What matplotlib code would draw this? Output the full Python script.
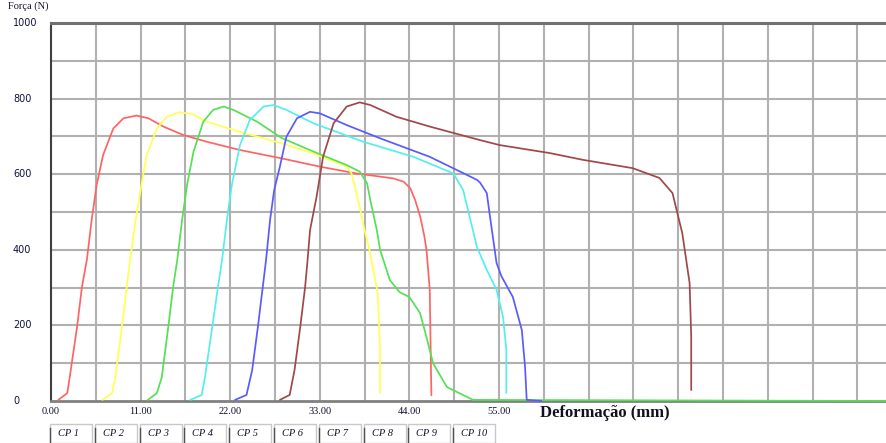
import matplotlib
matplotlib.use("Agg")
import matplotlib.pyplot as plt
from matplotlib.patches import Rectangle
from matplotlib.lines import Line2D
import matplotlib.transforms as mtransforms
import numpy as np

# ---------------- data ----------------
cp1_x = [0.9, 2.0, 2.3, 3.2, 3.8, 4.4, 5.0, 5.6, 6.4, 7.65, 8.9, 10.5, 11.95, 13.8, 16.2, 19.1, 23.2, 28.5, 33.0, 37.5, 42.0, 43.3, 44.1, 44.7, 45.3, 45.8, 46.1, 46.5, 46.6, 46.7]
cp1_y = [3, 21, 63, 196, 302, 373, 480, 571, 651, 721, 748, 755, 748, 726, 704, 686, 664, 641, 620, 602, 589, 580, 563, 532, 490, 440, 400, 294, 150, 15]

cp2_x = [6.3, 7.5, 7.9, 8.7, 9.3, 9.7, 10.4, 11.1, 11.75, 13.0, 14.2, 15.8, 17.5, 19.1, 23.2, 28.3, 32.2, 36.3, 36.9, 37.7, 38.5, 39.1, 40.1, 40.4, 40.4]
cp2_y = [3, 21, 63, 196, 302, 373, 480, 571, 651, 721, 752, 764, 758, 739, 712, 682, 655, 620, 602, 532, 452, 400, 286, 135, 21]

cp3_x = [11.9, 13.0, 13.6, 14.4, 15.0, 15.5, 16.1, 16.7, 17.5, 18.7, 19.9, 21.2, 22.4, 25.3, 28.3, 32.2, 36.3, 37.9, 38.8, 39.2, 40.0, 40.4, 41.6, 42.8, 44.0, 45.3, 46.1, 46.9, 48.6, 51.8, 103.0]
cp3_y = [3, 21, 63, 196, 302, 373, 480, 571, 660, 739, 770, 779, 770, 739, 696, 660, 624, 607, 576, 532, 452, 400, 320, 288, 275, 233, 169, 100, 37, 3, 0]

cp4_x = [17.1, 18.5, 18.9, 19.8, 20.5, 21.0, 21.6, 22.2, 23.2, 24.4, 26.1, 27.3, 28.9, 32.2, 38.3, 44.5, 49.4, 50.6, 51.4, 52.3, 53.5, 54.7, 55.5, 55.9, 55.9]
cp4_y = [3, 16, 63, 196, 302, 373, 480, 571, 677, 743, 779, 783, 770, 735, 686, 646, 602, 558, 487, 407, 347, 294, 222, 135, 21]

cp5_x = [22.6, 24.0, 24.7, 25.4, 26.0, 26.4, 26.9, 27.4, 28.1, 28.9, 30.2, 31.8, 33.0, 36.3, 40.4, 46.5, 52.3, 52.7, 53.5, 53.9, 54.7, 55.3, 56.7, 57.8, 58.2, 58.4, 60.2]
cp5_y = [3, 16, 82, 196, 302, 373, 480, 558, 620, 699, 748, 765, 761, 730, 695, 646, 585, 577, 550, 487, 365, 330, 275, 188, 90, 3, 0]

cp6_x = [28.1, 29.3, 29.9, 30.6, 31.2, 31.5, 31.8, 32.6, 33.4, 34.7, 36.3, 37.9, 39.2, 42.4, 46.5, 52.7, 55.1, 61.2, 65.3, 71.4, 74.7, 76.3, 77.5, 78.4, 78.6, 78.6]
cp6_y = [3, 16, 82, 196, 302, 373, 452, 540, 646, 735, 779, 790, 783, 752, 726, 690, 677, 656, 638, 616, 590, 550, 444, 312, 169, 29]

series_x = [cp1_x, cp2_x, cp3_x, cp4_x, cp5_x, cp6_x]
series_y = [cp1_y, cp2_y, cp3_y, cp4_y, cp5_y, cp6_y]
colors = ["#ff6464", "#ffff55", "#55e055", "#55eeee", "#5a5aff", "#a04848"]

legend_labels = ["CP 1", "CP 2", "CP 3", "CP 4", "CP 5", "CP 6", "CP 7", "CP 8", "CP 9", "CP 10"]
y_ticks = [0, 200, 400, 600, 800, 1000]
x_label_ticks = [0, 11, 22, 33, 44, 55]
x_tick_labels = ["0.00", "11.00", "22.00", "33.00", "44.00", "55.00"]

# ---------------- figure ----------------
W, H = 886, 443
fig = plt.figure(figsize=(W / 100, H / 100), dpi=100)
fig.patch.set_facecolor("white")
ax = fig.add_axes([51 / W, 42 / H, (W - 51) / W, 378 / H])

XMAX = (W - 51) / (448 / 55.0)
ax.set_xlim(0, XMAX)
ax.set_ylim(0, 1000)

# grid
for gx in np.arange(0, XMAX, 5.5):
    ax.axvline(gx, color="#b0b0b0", lw=1.5, zorder=1)
for gy in np.arange(100, 1000, 100):
    ax.axhline(gy, color="#b0b0b0", lw=1.5, zorder=1)

ax.set_xticks([])
ax.set_yticks([])

ax.spines["right"].set_visible(False)
ax.spines["left"].set_color("#404040")
ax.spines["left"].set_linewidth(1.5)
ax.spines["top"].set_color("#707070")
ax.spines["top"].set_linewidth(2.2)
ax.spines["bottom"].set_color("#808080")
ax.spines["bottom"].set_linewidth(2.0)

for xs, ys, c in zip(series_x, series_y, colors):
    ax.plot(xs, ys, color=c, lw=1.25, zorder=3, clip_on=False,
            solid_joinstyle="round", solid_capstyle="round")

# y tick labels (left aligned at x=13px)
trans_y = mtransforms.blended_transform_factory(fig.transFigure, ax.transData)
for v in y_ticks:
    ax.text(13 / W, v, str(v), transform=trans_y, ha="left", va="center",
            fontsize=7, family="DejaVu Sans", color="#101040")

# x tick labels
trans_x = mtransforms.blended_transform_factory(ax.transData, fig.transFigure)
for v, lab in zip(x_label_ticks, x_tick_labels):
    ax.text(v, 1 - 412 / H, lab, transform=trans_x, ha="center", va="center",
            fontsize=7.5, family="Liberation Serif", color="#101030")

fig.text(540 / W, 1 - 413 / H, "Deformação (mm)", ha="left", va="center",
         fontsize=12, fontweight="bold", family="Liberation Serif", color="#101020")

fig.text(8 / W, 1 - 1 / H, "Força (N)", ha="left", va="top",
         fontsize=7.5, family="Liberation Serif", color="#101030")

# legend buttons
for i, lab in enumerate(legend_labels):
    x0 = 50 + i * 44.8
    rect = Rectangle((x0 / W, 0), 42 / W, 19 / H, transform=fig.transFigure,
                     facecolor="white", edgecolor="#c8c8c8", lw=1.0)
    fig.patches.append(rect)
    fig.lines.append(Line2D([x0 / W, x0 / W], [0, 15 / H], transform=fig.transFigure,
                            color="#505050", lw=1.0))
    fig.text((x0 + 8) / W, 1 - 433 / H, lab, ha="left", va="center",
             fontsize=7.5, style="italic", family="Liberation Serif", color="#101030")

fig.savefig("out.png", dpi=100)
